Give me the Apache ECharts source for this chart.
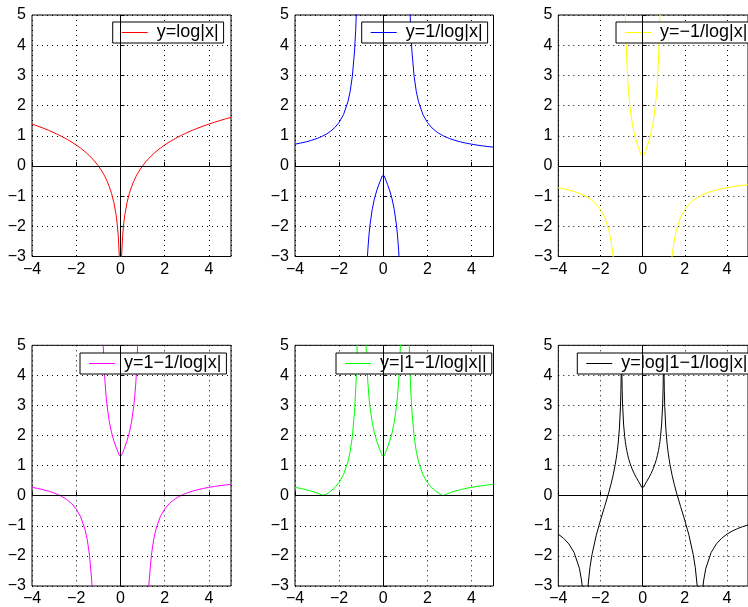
<!DOCTYPE html>
<html>
<head>
<meta charset="utf-8">
<script src="https://cdn.jsdelivr.net/npm/echarts@6/dist/echarts.min.js"></script>
<style>
html,body{margin:0;padding:0;background:#fff;}
#chart{width:748px;height:607px;}
</style>
</head>
<body>
<div id="chart"></div>
<script>
// ---- data ----
const xValues = [-4, -3.75, -3.5, -3.25, -3, -2.9, -2.85, -2.8, -2.75, -2.72, -2.7, -2.65, -2.6, -2.5, -2.4, -2.2, -2, -1.8, -1.6, -1.5, -1.4, -1.3, -1.25, -1.22, -1.2, -1.18, -1.15, -1.1, -1.05, -1.03, -1.02, -1.01, -1, -0.99, -0.98, -0.97, -0.95, -0.9, -0.85, -0.82, -0.8, -0.78, -0.75, -0.7, -0.65, -0.6, -0.5, -0.4, -0.3, -0.2, -0.15, -0.1, -0.05, -0.03,
  0.03, 0.05, 0.1, 0.15, 0.2, 0.3, 0.4, 0.5, 0.6, 0.65, 0.7, 0.75, 0.78, 0.8, 0.82, 0.85, 0.9, 0.95, 0.97, 0.98, 0.99, 1, 1.01, 1.02, 1.03, 1.05, 1.1, 1.15, 1.18, 1.2, 1.22, 1.25, 1.3, 1.4, 1.5, 1.6, 1.8, 2, 2.2, 2.4, 2.5, 2.6, 2.65, 2.7, 2.72, 2.75, 2.8, 2.85, 2.9, 3, 3.25, 3.5, 3.75, 4, 4.25, 4.5, 4.75, 5];

const yLog = [1.386, 1.322, 1.253, 1.179, 1.099, 1.065, 1.047, 1.030, 1.012, 1.001, 0.993, 0.975, 0.956, 0.916, 0.875, 0.788, 0.693, 0.588, 0.470, 0.405, 0.336, 0.262, 0.223, 0.199, 0.182, 0.166, 0.140, 0.095, 0.049, 0.030, 0.020, 0.010, 0, -0.010, -0.020, -0.030, -0.051, -0.105, -0.163, -0.198, -0.223, -0.248, -0.288, -0.357, -0.431, -0.511, -0.693, -0.916, -1.204, -1.609, -1.897, -2.303, -2.996, -3.507,
  -3.507, -2.996, -2.303, -1.897, -1.609, -1.204, -0.916, -0.693, -0.511, -0.431, -0.357, -0.288, -0.248, -0.223, -0.198, -0.163, -0.105, -0.051, -0.030, -0.020, -0.010, 0, 0.010, 0.020, 0.030, 0.049, 0.095, 0.140, 0.166, 0.182, 0.199, 0.223, 0.262, 0.336, 0.405, 0.470, 0.588, 0.693, 0.788, 0.875, 0.916, 0.956, 0.975, 0.993, 1.001, 1.012, 1.030, 1.047, 1.065, 1.099, 1.179, 1.253, 1.322, 1.386, 1.447, 1.504, 1.558, 1.609];

const yInvLog = [0.721, 0.757, 0.798, 0.848, 0.910, 0.939, 0.955, 0.971, 0.989, 0.999, 1.007, 1.026, 1.047, 1.091, 1.142, 1.268, 1.443, 1.701, 2.128, 2.466, 2.972, 3.811, 4.481, 5.029, 5.485, 6.042, 7.155, 10.49, 20.50, 33.83, 50.50, 100.5, null, -99.5, -49.5, -32.83, -19.50, -9.491, -6.153, -5.039, -4.481, -4.025, -3.476, -2.804, -2.321, -1.958, -1.443, -1.091, -0.831, -0.621, -0.527, -0.434, -0.334, -0.285,
  -0.285, -0.334, -0.434, -0.527, -0.621, -0.831, -1.091, -1.443, -1.958, -2.321, -2.804, -3.476, -4.025, -4.481, -5.039, -6.153, -9.491, -19.50, -32.83, -49.5, -99.5, null, 100.5, 50.5, 33.83, 20.5, 10.49, 7.155, 6.042, 5.485, 5.029, 4.481, 3.811, 2.972, 2.466, 2.128, 1.701, 1.443, 1.268, 1.142, 1.091, 1.047, 1.026, 1.007, 0.999, 0.989, 0.971, 0.955, 0.939, 0.910, 0.848, 0.798, 0.757, 0.721, 0.691, 0.665, 0.642, 0.621];

const yNegInvLog = [-0.721, -0.757, -0.798, -0.848, -0.910, -0.939, -0.955, -0.971, -0.989, -0.999, -1.007, -1.026, -1.047, -1.091, -1.142, -1.268, -1.443, -1.701, -2.128, -2.466, -2.972, -3.811, -4.481, -5.029, -5.485, -6.042, -7.155, -10.49, -20.50, -33.83, -50.50, -100.5, null, 99.5, 49.5, 32.83, 19.50, 9.491, 6.153, 5.039, 4.481, 4.025, 3.476, 2.804, 2.321, 1.958, 1.443, 1.091, 0.831, 0.621, 0.527, 0.434, 0.334, 0.285,
  0.285, 0.334, 0.434, 0.527, 0.621, 0.831, 1.091, 1.443, 1.958, 2.321, 2.804, 3.476, 4.025, 4.481, 5.039, 6.153, 9.491, 19.50, 32.83, 49.5, 99.5, null, -100.5, -50.5, -33.83, -20.5, -10.49, -7.155, -6.042, -5.485, -5.029, -4.481, -3.811, -2.972, -2.466, -2.128, -1.701, -1.443, -1.268, -1.142, -1.091, -1.047, -1.026, -1.007, -0.999, -0.989, -0.971, -0.955, -0.939, -0.910, -0.848, -0.798, -0.757, -0.721, -0.691, -0.665, -0.642, -0.621];

const yOneMinusInvLog = [0.279, 0.243, 0.202, 0.152, 0.090, 0.061, 0.045, 0.029, 0.011, 0.001, -0.007, -0.026, -0.047, -0.091, -0.142, -0.268, -0.443, -0.701, -1.128, -1.466, -1.972, -2.811, -3.481, -4.029, -4.485, -5.042, -6.155, -9.49, -19.5, -32.83, -49.5, -99.5, null, 100.5, 50.5, 33.83, 20.5, 10.49, 7.153, 6.039, 5.481, 5.025, 4.476, 3.804, 3.321, 2.958, 2.443, 2.091, 1.831, 1.621, 1.527, 1.434, 1.334, 1.285,
  1.285, 1.334, 1.434, 1.527, 1.621, 1.831, 2.091, 2.443, 2.958, 3.321, 3.804, 4.476, 5.025, 5.481, 6.039, 7.153, 10.49, 20.5, 33.83, 50.5, 100.5, null, -99.5, -49.5, -32.83, -19.5, -9.49, -6.155, -5.042, -4.485, -4.029, -3.481, -2.811, -1.972, -1.466, -1.128, -0.701, -0.443, -0.268, -0.142, -0.091, -0.047, -0.026, -0.007, 0.001, 0.011, 0.029, 0.045, 0.061, 0.090, 0.152, 0.202, 0.243, 0.279, 0.309, 0.335, 0.358, 0.379];

const yAbsOneMinusInvLog = [0.279, 0.243, 0.202, 0.152, 0.090, 0.061, 0.045, 0.029, 0.011, 0.001, 0.007, 0.026, 0.047, 0.091, 0.142, 0.268, 0.443, 0.701, 1.128, 1.466, 1.972, 2.811, 3.481, 4.029, 4.485, 5.042, 6.155, 9.49, 19.5, 32.83, 49.5, 99.5, null, 100.5, 50.5, 33.83, 20.5, 10.49, 7.153, 6.039, 5.481, 5.025, 4.476, 3.804, 3.321, 2.958, 2.443, 2.091, 1.831, 1.621, 1.527, 1.434, 1.334, 1.285,
  1.285, 1.334, 1.434, 1.527, 1.621, 1.831, 2.091, 2.443, 2.958, 3.321, 3.804, 4.476, 5.025, 5.481, 6.039, 7.153, 10.49, 20.5, 33.83, 50.5, 100.5, null, 99.5, 49.5, 32.83, 19.5, 9.49, 6.155, 5.042, 4.485, 4.029, 3.481, 2.811, 1.972, 1.466, 1.128, 0.701, 0.443, 0.268, 0.142, 0.091, 0.047, 0.026, 0.007, 0.001, 0.011, 0.029, 0.045, 0.061, 0.090, 0.152, 0.202, 0.243, 0.279, 0.309, 0.335, 0.358, 0.379];

const yLogAbsOneMinusInvLog = [-1.278, -1.413, -1.601, -1.887, -2.411, -2.800, -3.097, -3.548, -4.468, -7.37, -4.991, -3.646, -3.066, -2.392, -1.951, -1.316, -0.815, -0.355, 0.120, 0.383, 0.679, 1.034, 1.247, 1.394, 1.501, 1.618, 1.817, 2.250, 2.970, 3.491, 3.902, 4.600, null, 4.610, 3.922, 3.521, 3.020, 2.350, 1.968, 1.798, 1.701, 1.614, 1.499, 1.336, 1.200, 1.084, 0.893, 0.738, 0.605, 0.483, 0.423, 0.361, 0.288, 0.251,
  0.251, 0.288, 0.361, 0.423, 0.483, 0.605, 0.738, 0.893, 1.084, 1.200, 1.336, 1.499, 1.614, 1.701, 1.798, 1.968, 2.350, 3.020, 3.521, 3.922, 4.610, null, 4.600, 3.902, 3.491, 2.970, 2.250, 1.817, 1.618, 1.501, 1.394, 1.247, 1.034, 0.679, 0.383, 0.120, -0.355, -0.815, -1.316, -1.951, -2.392, -3.066, -3.646, -4.991, -7.37, -4.468, -3.548, -3.097, -2.800, -2.411, -1.887, -1.601, -1.413, -1.278, -1.175, -1.093, -1.027, -0.971];

const seriesNames = ['y=log|x|', 'y=1/log|x|', 'y=\u22121/log|x|', 'y=1\u22121/log|x|', 'y=|1\u22121/log|x||', 'y=log|1\u22121/log|x||'];
const seriesValues = [yLog, yInvLog, yNegInvLog, yOneMinusInvLog, yAbsOneMinusInvLog, yLogAbsOneMinusInvLog];
const xTickInterval = 2, xMin = -4, xMax = 5;
const yTickInterval = 1, yMin = -3, yMax = 5;

// ---- layout / style ----
const colors = ['#ff0000', '#0000ff', '#ffff00', '#ff00ff', '#00ff00', '#000000'];
const colLeft = [32, 295, 558.3];
const colWidth = [199, 198.5, 199];
const rowTop = [15, 345.3];
const rowHeight = 241.5;
const legendLeft = [112.7, 361.7, 616, 80, 336, 577.3];
const legendTop = [22, 22, 22, 353, 353, 353];
const FONT = '"Liberation Sans", Arial, Helvetica, sans-serif';

const fmt = v => (v < 0 ? '\u2212' + Math.abs(v) : String(v));

const grids = [], xAxes = [], yAxes = [], series = [], legends = [];
for (let i = 0; i < 6; i++) {
  const r = Math.floor(i / 3), c = i % 3;
  grids.push({left: colLeft[c], top: rowTop[r], width: colWidth[c], height: rowHeight,
    show: true, borderColor: '#000', borderWidth: 1, backgroundColor: '#fff', containLabel: false});
  xAxes.push({type: 'value', gridIndex: i, min: xMin, max: xMax, interval: xTickInterval,
    axisLine: {show: false}, axisTick: {show: true, inside: true, length: 4, lineStyle: {color: '#000'}},
    axisLabel: {color: '#000', fontSize: 16, fontFamily: FONT, margin: 5, formatter: fmt, showMaxLabel: false},
    splitLine: {show: true, lineStyle: {color: '#000', type: [1, 4], width: 1}}});
  yAxes.push({type: 'value', gridIndex: i, min: yMin, max: yMax, interval: yTickInterval,
    axisLine: {show: false}, axisTick: {show: true, inside: true, length: 4, lineStyle: {color: '#000'}},
    axisLabel: {color: '#000', fontSize: 16, fontFamily: FONT, margin: 6, formatter: fmt},
    splitLine: {show: true, lineStyle: {color: '#000', type: [1, 4], width: 1}}});
  const ys = seriesValues[i];
  series.push({
    name: seriesNames[i], type: 'line', xAxisIndex: i, yAxisIndex: i,
    data: xValues.map((x, k) => [x, ys[k] === null ? '-' : ys[k]]),
    symbol: 'none', showSymbol: false, smooth: false, connectNulls: false, clip: true,
    color: colors[i], itemStyle: {color: colors[i]}, lineStyle: {color: colors[i], width: 1},
    animation: false, silent: true, z: 3,
    markLine: {silent: true, symbol: 'none', animation: false, label: {show: false},
      lineStyle: {color: '#000', width: 1, type: 'solid'},
      data: [{xAxis: 0}, {yAxis: 0}]}
  });
  legends.push({
    data: [seriesNames[i]], left: legendLeft[i], top: legendTop[i], orient: 'horizontal',
    selectedMode: false, backgroundColor: '#fff', borderColor: '#000', borderWidth: 1, borderRadius: 0,
    padding: [1, 5, 1, 9], itemWidth: 26, itemHeight: 1, icon: 'rect',
    itemStyle: {color: colors[i], borderWidth: 0},
    textStyle: {color: '#000', fontSize: 18, fontFamily: FONT, padding: [0, 0, 0, 4], lineHeight: 19}
  });
}

const chart = echarts.init(document.getElementById('chart'), null, {renderer: 'canvas'});
chart.setOption({
  animation: false, backgroundColor: '#fff',
  grid: grids, xAxis: xAxes, yAxis: yAxes, series: series, legend: legends
});
</script>
</body>
</html>
